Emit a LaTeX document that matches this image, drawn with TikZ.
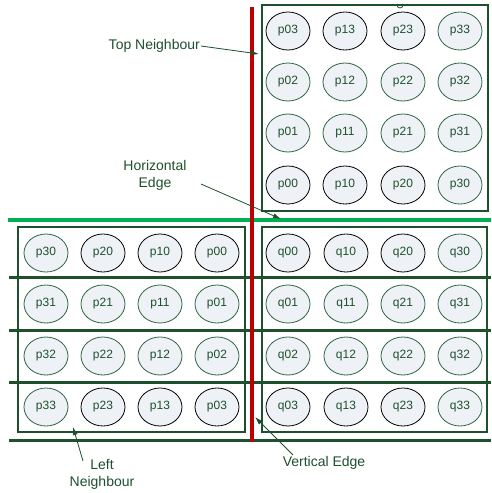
\documentclass[tikz,border=0pt]{standalone}
\usepackage{fontspec}
\setmainfont{Liberation Sans}
\usetikzlibrary{arrows.meta}
\definecolor{dkgreen}{RGB}{30,80,45}
\definecolor{cellline}{RGB}{45,100,65}
\definecolor{cellfill}{RGB}{238,241,246}
\definecolor{edgegreen}{RGB}{0,176,80}
\definecolor{edgered}{RGB}{192,0,0}
\tikzset{
  cell/.style={ellipse, draw=cellline, line width=0.8pt, fill=cellfill,
    minimum width=44pt, minimum height=38pt, inner sep=0pt,
    text=dkgreen, font=\fontsize{12}{14}\selectfont},
  darkcell/.style={cell, draw=black},
  blockbox/.style={draw=dkgreen, line width=1.6pt, inner sep=0pt},
  rowline/.style={draw=dkgreen, line width=3pt},
  callout/.style={text=dkgreen, font=\fontsize{14}{17}\selectfont, align=center, inner sep=1pt},
  pointer/.style={draw=dkgreen, line width=0.8pt, -{Latex[length=8pt,width=5pt]}}
}
\usetikzlibrary{shapes.geometric}
\begin{document}
\begin{tikzpicture}[x=1pt,y=-1pt]
\useasboundingbox (0,0) rectangle (491,493);
\fill[white] (0,0) rectangle (491,493);

% the three blocks
\node[blockbox, minimum width=226pt, minimum height=206pt] (topbox) at (375,108) {};
\node[blockbox, minimum width=227pt, minimum height=205pt] (leftbox) at (131.5,329.5) {};
\node[blockbox, minimum width=225pt, minimum height=205pt] (rightbox) at (374.5,329.5) {};
\draw[dkgreen, line width=0.8pt] (397,5) arc[start angle=180, end angle=0, radius=3];

% rows separating the lower blocks
\coordinate (r1a) at (9,277);  \coordinate (r1b) at (491,277);
\coordinate (r2a) at (9,330);  \coordinate (r2b) at (491,330);
\coordinate (r3a) at (9,382);  \coordinate (r3b) at (491,382);
\coordinate (r4a) at (9,440);  \coordinate (r4b) at (491,440);
\foreach \k in {1,...,4} \draw[rowline] (r\k a) -- (r\k b);

% top neighbour cells
\foreach \i/\x in {0/288,1/345,2/403,3/460} {
  \foreach \j/\y in {0/31,1/82,2/133,3/185} {
    \pgfmathtruncatemacro{\r}{3-\j}
    \ifnum\i<3 \ifnum\j=0 \def\st{darkcell}\else\ifnum\j=3 \def\st{darkcell}\else\def\st{cell}\fi\fi
    \else \def\st{cell}\fi
    \node[\st] (T\i\j) at (\x,\y) {p\i\r};
  }
}

% left neighbour cells
\foreach \i/\x in {0/46,1/103,2/160,3/217} {
  \foreach \j/\y in {0/253,1/304,2/356,3/407} {
    \pgfmathtruncatemacro{\c}{3-\i}
    \ifnum\i>0 \ifnum\j=0 \def\st{darkcell}\else\ifnum\j=3 \def\st{darkcell}\else\def\st{cell}\fi\fi
    \else \def\st{cell}\fi
    \node[\st] (L\i\j) at (\x,\y) {p\c\j};
  }
}

% current block cells
\foreach \i/\x in {0/288,1/346,2/403,3/460} {
  \foreach \j/\y in {0/253,1/304,2/356,3/407} {
    \ifnum\i<3 \ifnum\j=0 \def\st{darkcell}\else\ifnum\j=3 \def\st{darkcell}\else\def\st{cell}\fi\fi
    \else \def\st{cell}\fi
    \node[\st] (R\i\j) at (\x,\y) {q\i\j};
  }
}

% block edges
\coordinate (hA) at (8,220);  \coordinate (hB) at (491,220);
\coordinate (vA) at (252,7);  \coordinate (vB) at (252,442);
\draw[edgegreen, line width=3.5pt] (hA) -- (hB);
\draw[edgered, line width=4pt] (vA) -- (vB);

% callouts
\node[callout, anchor=east] (tn) at (201,46) {Top Neighbour};
\coordinate (tnTip) at (259,54);
\draw[pointer] (tn.east) -- (tnTip);

\node[callout] (he) at (155,175) {Horizontal\\Edge};
\coordinate (heFrom) at (201,184);
\coordinate (heTip) at (281,219);
\draw[pointer] (heFrom) -- (heTip);

\node[callout] (ln) at (102,474) {Left\\Neighbour};
\coordinate (lnFrom) at (83,461);
\coordinate (lnTip) at (73,427);
\draw[pointer] (lnFrom) -- (lnTip);

\node[callout] (ve) at (324,463) {Vertical Edge};
\coordinate (veFrom) at (293,455);
\coordinate (veTip) at (255,417);
\draw[pointer] (veFrom) -- (veTip);
\end{tikzpicture}
\end{document}
